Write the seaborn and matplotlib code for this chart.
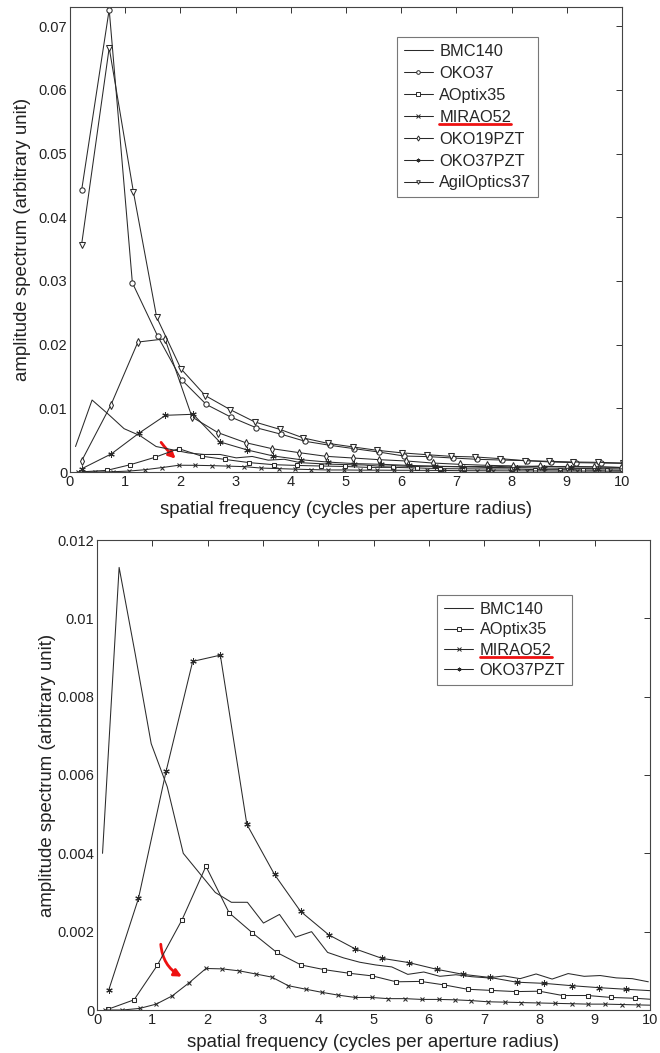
import numpy as np
import pandas as pd
import seaborn as sns
import matplotlib
matplotlib.use("Agg")
import matplotlib.pyplot as plt
from matplotlib.lines import Line2D
from matplotlib.patches import FancyArrowPatch

# ---------------- data ----------------
bmc140_x = [0.10, 0.40, 0.69, 0.98, 1.27, 1.56, 1.85, 2.14, 2.43, 2.72, 3.01, 3.30,
            3.59, 3.88, 4.17, 4.46, 4.75, 5.04, 5.33, 5.62, 5.91, 6.20, 6.49, 6.78,
            7.07, 7.36, 7.65, 7.94, 8.23, 8.52, 8.81, 9.10, 9.39, 9.68, 9.97]
bmc140_y = [0.0040, 0.0113, 0.0091, 0.0068, 0.0057, 0.0040, 0.0035, 0.0030, 0.00275,
            0.00275, 0.00222, 0.00244, 0.00186, 0.0020, 0.00147, 0.00133, 0.00122,
            0.00115, 0.0011, 0.00091, 0.00097, 0.00086, 0.0009, 0.00085, 0.00082,
            0.00087, 0.0008, 0.00092, 0.00079, 0.00093, 0.00086, 0.00088, 0.00082,
            0.0008, 0.00072]

oko37_x = [0.21, 0.71, 1.13, 1.59, 2.02, 2.47, 2.91, 3.37, 3.83, 4.26, 4.71, 5.15,
           5.59, 6.05, 6.50, 6.93, 7.38, 7.82, 8.28, 8.71, 9.16, 9.62, 10.06]
oko37_y = [0.0442, 0.0726, 0.0297, 0.0213, 0.0145, 0.0106, 0.00864, 0.00696, 0.00592,
           0.00482, 0.00419, 0.00366, 0.00314, 0.00251, 0.00241, 0.0022, 0.00199,
           0.00188, 0.00178, 0.00157, 0.00147, 0.00141, 0.00135]

aoptix35_x = [0.20, 0.67, 1.09, 1.54, 1.97, 2.39, 2.81, 3.25, 3.69, 4.11, 4.55, 4.98,
              5.41, 5.85, 6.28, 6.70, 7.13, 7.57, 8.00, 8.42, 8.87, 9.30, 9.73, 10.16]
aoptix35_y = [0.00002, 0.00026, 0.00114, 0.00231, 0.00367, 0.00248, 0.00197, 0.00147,
              0.00115, 0.00103, 0.00094, 0.00087, 0.00072, 0.00073, 0.00064, 0.00053,
              0.0005, 0.00047, 0.00048, 0.00037, 0.00037, 0.00032, 0.0003, 0.00026]

mirao52_x = [0.14, 0.46, 0.77, 1.07, 1.36, 1.67, 1.97, 2.26, 2.57, 2.87, 3.16, 3.46,
             3.78, 4.07, 4.36, 4.67, 4.97, 5.26, 5.57, 5.87, 6.18, 6.47, 6.77, 7.07,
             7.38, 7.67, 7.97, 8.28, 8.59, 8.88, 9.18, 9.49, 9.79, 10.10]
mirao52_y = [0.0, 0.0, 0.00004, 0.00015, 0.00036, 0.0007, 0.00106, 0.00105, 0.001,
             0.00092, 0.00084, 0.00062, 0.00053, 0.00045, 0.00038, 0.00032, 0.00032,
             0.00029, 0.00029, 0.00027, 0.00027, 0.00026, 0.00024, 0.00021, 0.0002,
             0.00019, 0.00018, 0.00017, 0.00016, 0.00015, 0.00015, 0.00014, 0.00013,
             0.00012]

oko19pzt_x = [0.21, 0.74, 1.23, 1.72, 2.21, 2.68, 3.18, 3.66, 4.15, 4.64, 5.12, 5.59,
              6.09, 6.57, 7.07, 7.55, 8.03, 8.52, 9.00, 9.50, 9.98]
oko19pzt_y = [0.00173, 0.0105, 0.0204, 0.0209, 0.00864, 0.00618, 0.00461, 0.00366,
              0.00304, 0.00246, 0.0022, 0.00194, 0.00173, 0.00141, 0.0012, 0.00105,
              0.00094, 0.00089, 0.00079, 0.00079, 0.0007]

oko37pzt_x = [0.21, 0.75, 1.25, 1.73, 2.23, 2.71, 3.21, 3.68, 4.19, 4.67, 5.15, 5.64,
              6.14, 6.62, 7.11, 7.59, 8.09, 8.59, 9.08, 9.56, 10.05]
oko37pzt_y = [0.0005, 0.00285, 0.0061, 0.0089, 0.00906, 0.00474, 0.00346, 0.00252,
              0.00192, 0.00156, 0.00132, 0.00121, 0.00104, 0.00091, 0.00083, 0.00071,
              0.00068, 0.00062, 0.00057, 0.00053, 0.00049]

agil37_x = [0.21, 0.71, 1.15, 1.57, 2.01, 2.45, 2.90, 3.35, 3.80, 4.23, 4.67, 5.13,
            5.57, 6.02, 6.46, 6.90, 7.34, 7.79, 8.24, 8.68, 9.12, 9.56, 10.01]
agil37_y = [0.0357, 0.0666, 0.0439, 0.0243, 0.0162, 0.012, 0.0098, 0.00785, 0.0067,
            0.00534, 0.0045, 0.00393, 0.0034, 0.003, 0.00272, 0.00246, 0.00236, 0.0021,
            0.00178, 0.00168, 0.00157, 0.00152, 0.00141]

x_ticks = list(range(0, 11))
top_yticks = [0, 0.01, 0.02, 0.03, 0.04, 0.05, 0.06, 0.07]
top_yticklabels = ["0", "0.01", "0.02", "0.03", "0.04", "0.05", "0.06", "0.07"]
bot_yticks = [0, 0.002, 0.004, 0.006, 0.008, 0.010, 0.012]
bot_yticklabels = ["0", "0.002", "0.004", "0.006", "0.008", "0.01", "0.012"]
xlabel = "spatial frequency (cycles per aperture radius)"
ylabel = "amplitude spectrum (arbitrary unit)"

# name -> (x, y, marker, marker size)
series = {
    "BMC140": (bmc140_x, bmc140_y, None, 0),
    "OKO37": (oko37_x, oko37_y, "o", 3.8),
    "AOptix35": (aoptix35_x, aoptix35_y, "s", 3.4),
    "MIRAO52": (mirao52_x, mirao52_y, "x", 2.6),
    "OKO19PZT": (oko19pzt_x, oko19pzt_y, "d", 4.0),
    "OKO37PZT": (oko37pzt_x, oko37pzt_y, (6, 2, 0), 4.6),
    "AgilOptics37": (agil37_x, agil37_y, "v", 4.0),
}
top_names = ["BMC140", "OKO37", "AOptix35", "MIRAO52", "OKO19PZT", "OKO37PZT", "AgilOptics37"]
bot_names = ["BMC140", "AOptix35", "MIRAO52", "OKO37PZT"]

# ---------------- style ----------------
sns.set_style("white")
plt.rcParams["font.family"] = ["Liberation Sans", "DejaVu Sans"]
LINE = "#2a2a2a"
W, H = 660, 1053
fig = plt.figure(figsize=(W / 100, H / 100), dpi=100)


def axes_px(x0, x1, ytop, ybot):
    return fig.add_axes([x0 / W, 1 - ybot / H, (x1 - x0) / W, (ybot - ytop) / H])


ax_top = axes_px(70, 622, 7, 472)
ax_bot = axes_px(97, 650, 540, 1010)


def draw(ax, names):
    for name in names:
        xs, ys, mk, ms = series[name]
        df = pd.DataFrame({"x": xs, "y": ys})
        kw = dict(color=LINE, linewidth=0.75, label=name, sort=False, estimator=None)
        if mk is not None:
            kw.update(marker=mk, markersize=ms, markerfacecolor="white",
                      markeredgecolor=LINE, markeredgewidth=0.75)
        sns.lineplot(data=df, x="x", y="y", ax=ax, **kw)


draw(ax_top, top_names)
draw(ax_bot, bot_names)

for ax, yt, ytl, ylim, xpad, ypad in [
        (ax_top, top_yticks, top_yticklabels, (0, 0.073), 9, 5.5),
        (ax_bot, bot_yticks, bot_yticklabels, (0, 0.012), 5.5, 0.8)]:
    ax.set_xlim(0, 10)
    ax.set_ylim(*ylim)
    ax.set_xticks(x_ticks)
    ax.set_xticklabels([str(t) for t in x_ticks])
    ax.set_yticks(yt)
    ax.set_yticklabels(ytl)
    ax.tick_params(direction="in", length=4, width=0.7, colors="#333333",
                   labelsize=10.5, labelcolor="#222222", top=True, right=True,
                   pad=2)
    for sp in ax.spines.values():
        sp.set_color("#444444")
        sp.set_linewidth(0.8)
    ax.set_xlabel(xlabel, fontsize=13.4, color="#222222", labelpad=xpad)
    ax.set_ylabel(ylabel, fontsize=13.4, color="#222222", labelpad=ypad)

leg_kw = dict(frameon=True, fancybox=False, edgecolor="#777777", framealpha=1,
              fontsize=11.8, handlelength=1.8, handletextpad=0.38,
              borderpad=0.42, borderaxespad=0, loc="upper left")
leg_top = ax_top.legend(bbox_to_anchor=(0.592, 0.935), labelspacing=0.42, **leg_kw)
leg_bot = ax_bot.legend(bbox_to_anchor=(0.615, 0.883), labelspacing=0.33, **leg_kw)
for leg in (leg_top, leg_bot):
    leg.get_frame().set_linewidth(0.8)
    for ln in leg.get_lines():
        ln.set_markersize(min(ln.get_markersize(), 2.6))
        ln.set_markeredgewidth(0.7)

# red arrows
ax_top.add_patch(FancyArrowPatch((1.62, 0.0050), (1.95, 0.0018), arrowstyle="-|>",
                                 mutation_scale=10, color="#ee1111", lw=2,
                                 connectionstyle="arc3,rad=0.05"))
ax_bot.add_patch(FancyArrowPatch((1.15, 0.00175), (1.58, 0.00082), arrowstyle="-|>",
                                 mutation_scale=11, color="#ee1111", lw=2,
                                 connectionstyle="arc3,rad=0.3"))

# red underline of MIRAO52 in both legends
fig.canvas.draw()
for leg in (leg_top, leg_bot):
    for t in leg.get_texts():
        if t.get_text() == "MIRAO52":
            bb = t.get_window_extent()
            y = bb.y0 + 1
            fig.add_artist(Line2D([bb.x0 / W, bb.x1 / W], [y / H, y / H],
                                  transform=fig.transFigure, color="#ee1111", lw=2))

fig.savefig("out.png", dpi=100, facecolor="white")
